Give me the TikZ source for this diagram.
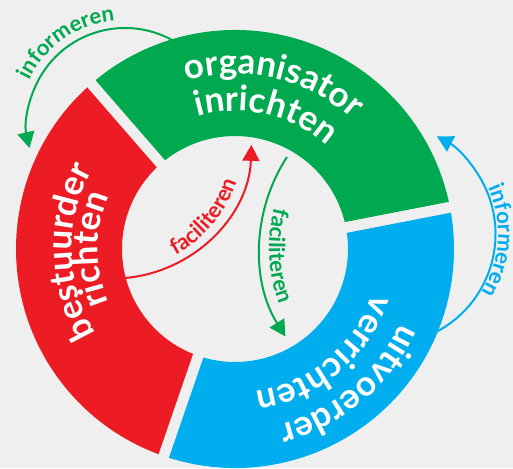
\documentclass[tikz,border=0pt]{standalone}
\usepackage{fontspec}
\setmainfont{Lato}
\usetikzlibrary{arrows.meta,decorations.text,calc}
\definecolor{bgc}{RGB}{239,239,239}
\definecolor{cGreen}{RGB}{0,169,79}
\definecolor{cRed}{RGB}{237,28,36}
\definecolor{cBlue}{RGB}{0,174,239}
\newcommand\segfont{\fontsize{35}{35}\selectfont\bfseries}
\newcommand\arrfont{\fontsize{22}{22}\selectfont\bfseries}
\begin{document}
\begin{tikzpicture}[x=1pt,y=1pt,
  flow/.style={line width=2pt,draw=#1,-{Triangle[length=16pt,width=17pt]},fill=none},
  seglabel/.style={decorate,decoration={text along path,text align=center,text color=white,text={|\segfont|#1}}},
  arrlabel/.style 2 args={decorate,decoration={text along path,text align=center,text color=#1,text={|\arrfont|#2}}},
  segment/.style={fill=#1}]
\useasboundingbox (-235,-219) rectangle (278,249);
\fill[bgc] (-235,-219) rectangle (278,249);
% arrow centres and end points
\coordinate (gInfoC) at (-110,123);
\coordinate (bInfoC) at (150,15);
\coordinate (rFacC) at (-122,109);
\coordinate (gFacC) at (192,1);
\coordinate (gInfoS) at ($(gInfoC)+(60:98pt)$);
\coordinate (bInfoS) at ($(bInfoC)+(-63:110.5pt)$);
\coordinate (rFacS) at ($(rFacC)+(-87:138.5pt)$);
\coordinate (gFacS) at ($(gFacC)+(147:167pt)$);
% arrows
\draw[flow=cGreen] (gInfoS) arc[start angle=60,end angle=193,radius=98pt];
\draw[flow=cBlue] (bInfoS) arc[start angle=-63,end angle=62,radius=110.5pt];
\draw[flow=cRed] (rFacS) arc[start angle=-87,end angle=-2,radius=138.5pt];
\draw[flow=cGreen] (gFacS) arc[start angle=147,end angle=212,radius=167pt];
% ring segments
\fill[segment=cGreen] (12.44:219pt) arc[start angle=12.44,end angle=129.56,radius=219pt]
  -- (128.21:113pt) arc[start angle=128.21,end angle=13.79,radius=113pt] -- cycle;
\fill[segment=cRed] (132.44:219pt) arc[start angle=132.44,end angle=249.56,radius=219pt]
  -- (248.21:113pt) arc[start angle=248.21,end angle=133.79,radius=113pt] -- cycle;
\fill[segment=cBlue] (252.44:219pt) arc[start angle=252.44,end angle=369.56,radius=219pt]
  -- (368.21:113pt) arc[start angle=368.21,end angle=253.79,radius=113pt] -- cycle;
% segment labels
\path[seglabel=organisator] (147:175pt) arc[start angle=147,end angle=7,radius=175pt];
\path[seglabel=inrichten] (147:138pt) arc[start angle=147,end angle=7,radius=138pt];
\path[seglabel=bestuurder] (251:163pt) arc[start angle=251,end angle=111,radius=163pt];
\path[seglabel=richten] (250:137pt) arc[start angle=250,end angle=110,radius=137pt];
\path[seglabel=uitvoerder] (20:181pt) arc[start angle=20,end angle=-120,radius=181pt];
\path[seglabel=verrichten] (20:144pt) arc[start angle=20,end angle=-120,radius=144pt];
% arrow labels
\path[arrlabel={cGreen}{informeren}] ($(gInfoC)+(195:106pt)$) arc[start angle=195,end angle=55,radius=106pt];
\path[arrlabel={cBlue}{informeren}] ($(bInfoC)+(66.5:113pt)$) arc[start angle=66.5,end angle=-73.5,radius=113pt];
\path[arrlabel={cRed}{faciliteren}] ($(rFacC)+(-100:131pt)$) arc[start angle=-100,end angle=20,radius=131pt];
\path[arrlabel={cGreen}{faciliteren}] ($(gFacC)+(123:158pt)$) arc[start angle=123,end angle=243,radius=158pt];
\end{tikzpicture}
\end{document}
